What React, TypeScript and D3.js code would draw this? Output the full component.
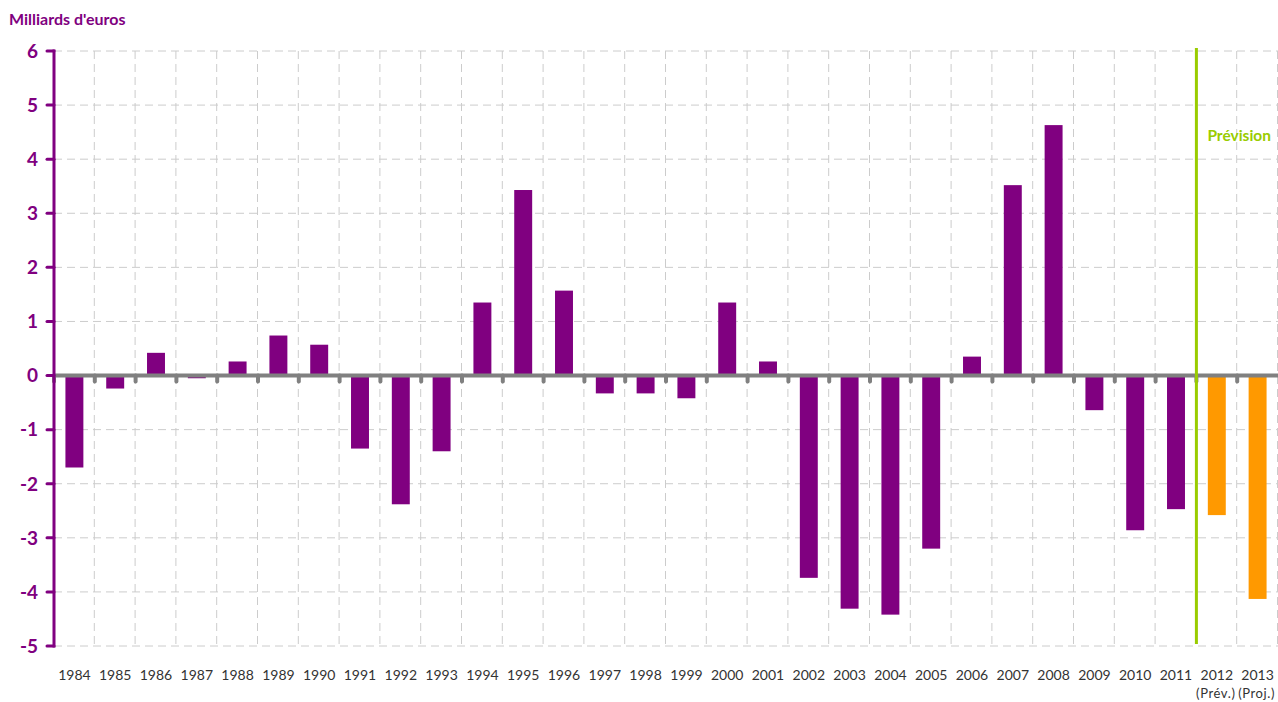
import React, { useRef, useEffect } from 'react';
import * as d3 from 'd3';

const years = ['1984', '1985', '1986', '1987', '1988', '1989', '1990', '1991', '1992', '1993',
  '1994', '1995', '1996', '1997', '1998', '1999', '2000', '2001', '2002', '2003',
  '2004', '2005', '2006', '2007', '2008', '2009', '2010', '2011', '2012', '2013'];
const balance = [-1.7, -0.24, 0.42, -0.05, 0.26, 0.74, 0.57, -1.35, -2.38, -1.4,
  1.35, 3.43, 1.57, -0.33, -0.33, -0.42, 1.35, 0.26, -3.74, -4.31,
  -4.42, -3.2, 0.35, 3.52, 4.63, -0.64, -2.86, -2.47, -2.58, -4.13];
const forecastYears = ['2012', '2013'];
const subLabels = { '2012': '(Prév.)', '2013': '(Proj.)' };
const yTicks = [-5, -4, -3, -2, -1, 0, 1, 2, 3, 4, 5, 6];

const W = 1278, H = 702;
const m = { left: 54, right: 0, top: 51, bottom: 56 };
const purple = '#800080';
const orange = '#ff9900';
const green = '#99cc00';

const Chart = () => {
  const ref = useRef();

  useEffect(() => {
    const svg = d3.select(ref.current);
    svg.selectAll('*').remove();

    const x = d3.scaleBand().domain(years).range([m.left, W - m.right]).paddingInner(0).paddingOuter(0);
    const y = d3.scaleLinear().domain([-5, 6]).range([H - m.bottom, m.top]);
    const bw = x.bandwidth();
    const barW = bw * 0.44;

    // grid
    const grid = svg.append('g');
    grid.selectAll('line.h').data(yTicks).enter().append('line')
      .attr('x1', m.left).attr('x2', W - m.right)
      .attr('y1', d => y(d)).attr('y2', d => y(d))
      .attr('stroke', '#cccccc').attr('stroke-width', 1).attr('stroke-dasharray', '8,5');
    grid.selectAll('line.v').data(years.slice(1).concat(['end'])).enter().append('line')
      .attr('x1', (d, i) => m.left + (i + 1) * bw - 0.5).attr('x2', (d, i) => m.left + (i + 1) * bw - 0.5)
      .attr('y1', y(6)).attr('y2', y(-5))
      .attr('stroke', '#cccccc').attr('stroke-width', 1).attr('stroke-dasharray', '8,5');

    // bars
    svg.append('g').selectAll('rect').data(years).enter().append('rect')
      .attr('x', d => x(d) + (bw - barW) / 2)
      .attr('width', barW)
      .attr('y', (d, i) => y(Math.max(0, balance[i])))
      .attr('height', (d, i) => Math.abs(y(balance[i]) - y(0)))
      .attr('fill', d => forecastYears.includes(d) ? orange : purple);

    // zero axis with ticks
    const zero = svg.append('g');
    zero.append('line')
      .attr('x1', m.left).attr('x2', W - m.right)
      .attr('y1', y(0)).attr('y2', y(0))
      .attr('stroke', '#808080').attr('stroke-width', 4);
    zero.selectAll('line.t').data(years).enter().append('line')
      .attr('x1', (d, i) => m.left + i * bw).attr('x2', (d, i) => m.left + i * bw)
      .attr('y1', y(0)).attr('y2', y(0) + 6)
      .attr('stroke', '#808080').attr('stroke-width', 4).attr('stroke-linecap', 'round');

    // forecast separator
    const sepX = x('2012');
    svg.append('line')
      .attr('x1', sepX).attr('x2', sepX)
      .attr('y1', y(6) - 3).attr('y2', y(-5) - 2)
      .attr('stroke', green).attr('stroke-width', 3);
    svg.append('text')
      .attr('x', sepX + 11).attr('y', y(4.33))
      .attr('fill', green).attr('font-size', 15.5).attr('font-weight', 'bold')
      .text('Prévision');

    // y axis
    const yAxis = svg.append('g');
    yAxis.append('line')
      .attr('x1', m.left).attr('x2', m.left)
      .attr('y1', y(6) - 1.5).attr('y2', y(-5) + 1.5)
      .attr('stroke', purple).attr('stroke-width', 3);
    yAxis.selectAll('line.t').data(yTicks).enter().append('line')
      .attr('x1', m.left - 7).attr('x2', m.left)
      .attr('y1', d => y(d)).attr('y2', d => y(d))
      .attr('stroke', purple).attr('stroke-width', 3).attr('stroke-linecap', 'round');
    yAxis.selectAll('text').data(yTicks).enter().append('text')
      .attr('x', 38).attr('y', d => y(d)).attr('dy', '0.36em')
      .attr('text-anchor', 'end')
      .attr('fill', purple).attr('font-size', 19).attr('font-weight', 'bold')
      .text(d => d);

    svg.append('text')
      .attr('x', 9).attr('y', 25)
      .attr('fill', purple).attr('font-size', 16).attr('font-weight', 'bold')
      .text("Milliards d'euros");

    // x labels
    svg.append('g').selectAll('text').data(years).enter().append('text')
      .attr('x', d => x(d) + bw / 2).attr('y', 680)
      .attr('text-anchor', 'middle')
      .attr('fill', '#333333').attr('font-size', 14)
      .text(d => d);
    svg.append('g').selectAll('text').data(forecastYears).enter().append('text')
      .attr('x', d => x(d) + bw / 2 - 1).attr('y', 698)
      .attr('text-anchor', 'middle')
      .attr('fill', '#333333').attr('font-size', 13).attr('letter-spacing', 0.6)
      .text(d => subLabels[d]);
  }, []);

  return <svg ref={ref} width={W} height={H} style={{ fontFamily: 'Lato, "Open Sans", sans-serif', display: 'block' }}></svg>;
};

export default function App() {
  return (
    <div style={{ position: 'fixed', left: 0, top: 0, width: W, height: H, overflow: 'hidden', background: '#fff' }}>
      <Chart />
    </div>
  );
}
